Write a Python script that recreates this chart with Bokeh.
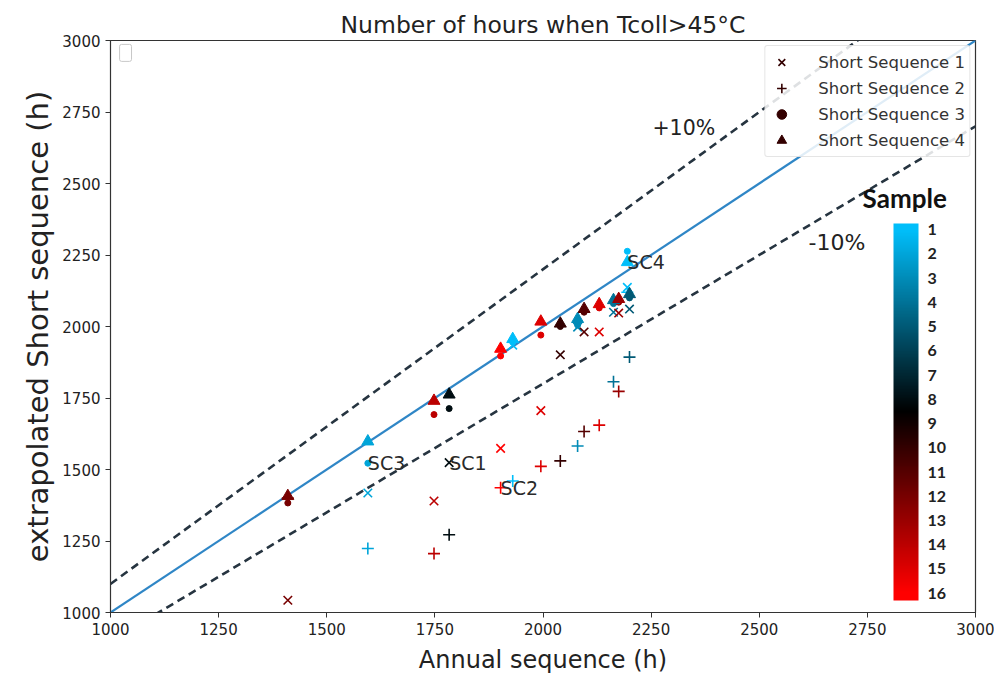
import numpy as np
from bokeh.plotting import figure
from bokeh.models import (ColumnDataSource, Legend, LegendItem, ColorBar, LinearColorMapper,
                          FixedTicker, Label, CustomJSTickFormatter, AllLabels)
from bokeh.core.properties import value
from bokeh.embed import file_html
from bokeh.resources import INLINE

# ---------------- data ----------------
annual = [1410, 1595, 1748, 1783, 1902, 1930, 1995, 2040, 2080, 2095, 2130, 2163, 2175, 2200, 2195]
sample = [12, 2, 14, 8, 16, 1, 15, 10, 3, 11, 15, 4, 13, 5, 1]
seq1 = [1043, 1418, 1390, 1524, 1574, 1935, 1706, 1901, 1998, 1981, 1981, 2050, 2047, 2061, 2137]
seq2 = [1400, 1224, 1206, 1272, 1436, 1460, 1511, 1530, 1582, 1633, 1655, 1807, 1773, 1893, 2120]
seq3 = [1383, 1522, 1692, 1713, 1897, 1945, 1970, 2000, 2005, 2050, 2065, 2080, 2085, 2100, 2263]
seq4 = [1407, 1598, 1740, 1762, 1922, 1956, 2017, 2010, 2026, 2061, 2078, 2092, 2096, 2113, 2225]
series_names = ["Short Sequence 1", "Short Sequence 2", "Short Sequence 3", "Short Sequence 4"]
x_ticks = [1000, 1250, 1500, 1750, 2000, 2250, 2500, 2750, 3000]
y_ticks = [1000, 1250, 1500, 1750, 2000, 2250, 2500, 2750, 3000]
ref_x = [1000, 3000]
band_factors = [1.1, 1.0, 0.9]
sc_labels = ["SC1", "SC2", "SC3", "SC4"]
cbar_ticks = list(range(1, 17))


def sample_color(s):
    t = min(1.0, max(0.0, (s - 1) / 15.0))
    if t <= 0.5:
        f = 1 - 2 * t
        r, g, b = 0, 190 * f, 250 * f
    else:
        f = 2 * t - 1
        r, g, b = 255 * f, 0, 0
    return "#%02x%02x%02x" % (int(round(r)), int(round(g)), int(round(b)))


src = ColumnDataSource(dict(annual=annual, seq1=seq1, seq2=seq2, seq3=seq3, seq4=seq4,
                            color=[sample_color(s) for s in sample]))

FONT = "DejaVu Sans"
p = figure(width=994, height=676, x_range=(1000, 3000), y_range=(1000, 3000),
           output_backend="svg", toolbar_location=None,
           min_border_left=110, min_border_right=19, min_border_top=40, min_border_bottom=61)
p.xgrid.visible = False
p.ygrid.visible = False
p.outline_line_color = "#333333"
p.outline_line_width = 1.2
p.background_fill_color = "white"

p.title.text = "Number of hours when Tcoll>45°C"
p.title.align = "center"
p.title.text_font = FONT
p.title.text_font_size = "23.5px"
p.title.text_font_style = "normal"
p.title.text_color = "#222222"
p.title.standoff = 4

for ax, ticks in ((p.xaxis, x_ticks), (p.yaxis, y_ticks)):
    ax.ticker = FixedTicker(ticks=ticks)
    ax.major_label_text_font = FONT
    ax.major_label_text_font_size = "15px"
    ax.major_label_text_color = "#222222"
    ax.minor_tick_line_color = None
    ax.major_tick_in = 0
    ax.major_tick_out = 5
    ax.axis_line_color = "#333333"
    ax.major_tick_line_color = "#333333"
    ax.axis_label_text_font = FONT
    ax.axis_label_text_font_style = "normal"
    ax.axis_label_text_color = "#222222"
p.xaxis.axis_label = "Annual sequence (h)"
p.xaxis.axis_label_text_font_size = "24px"
p.xaxis.axis_label_standoff = 8
p.yaxis.axis_label = "extrapolated Short sequence (h)"
p.yaxis.axis_label_text_font_size = "29px"
p.yaxis.axis_label_standoff = 4

# reference lines
for fct in band_factors:
    ys = [fct * v for v in ref_x]
    if fct == 1.0:
        p.line(ref_x, ys, line_color="#2f86c6", line_width=2.2)
    else:
        p.line(ref_x, ys, line_color="#263440", line_width=2.6, line_dash="8 5")

r1 = p.scatter("annual", "seq1", source=src, marker="x", size=12, line_color="color", line_width=1.6)
r2 = p.scatter("annual", "seq2", source=src, marker="cross", size=12, line_color="color", line_width=1.6)
r3 = p.scatter("annual", "seq3", source=src, marker="circle", size=6, fill_color="color", line_color="color")
r4 = p.scatter("annual", "seq4", source=src, marker="triangle", size=12, fill_color="color", line_color="color")

legend = Legend(items=[LegendItem(label=n, renderers=[r], index=7)
                       for n, r in zip(series_names, [r1, r2, r3, r4])],
                location="top_right", margin=5, padding=4, spacing=2,
                label_text_font=FONT, label_text_font_size="16.5px", label_text_color="#333333",
                glyph_width=24, glyph_height=24, label_height=20, label_standoff=25,
                border_line_color="#cccccc", border_line_width=1, border_radius=3,
                background_fill_alpha=0.85)
p.add_layout(legend)

# SC annotations
sc_x = [annual[3], annual[4], annual[1], annual[14]]
sc_y = [seq1[3], seq2[4], seq3[1], seq4[14]]
p.text(x=sc_x, y=sc_y, text=sc_labels, text_font=value(FONT), text_font_size="19px",
       text_color="#2a2a2a", text_align="left", text_baseline="alphabetic")

p.add_layout(Label(x=2253, y=2694, text="+10%", text_font=FONT, text_font_size="20.5px",
                   text_color="#222222", text_baseline="middle"))
p.add_layout(Label(x=2614, y=2294, text="-10%", text_font=FONT, text_font_size="22px",
                   text_color="#222222", text_baseline="middle"))

# empty legend box (top-left)
p.add_layout(Label(x=1021, y=2927, text=" ", text_font_size="7px", padding=5,
                   border_line_color="#c8c8c8", border_line_width=1, border_radius=2,
                   background_fill_color="white"))

# colour bar
pal = []
lo, hi = -16.3, -0.75
for i in range(256):
    v = lo + (hi - lo) * i / 255.0
    pal.append(sample_color(-v))
mapper = LinearColorMapper(palette=pal, low=lo, high=hi)
cb = ColorBar(color_mapper=mapper, location=(783, 12), orientation="vertical",
              width=25, height=377, padding=0,
              ticker=FixedTicker(ticks=[-s for s in cbar_ticks]),
              formatter=CustomJSTickFormatter(code="return String(Math.round(-tick));"),
              major_label_policy=AllLabels(),
              major_tick_line_color=None, minor_tick_line_color=None, label_standoff=9,
              major_label_text_font="Lato", major_label_text_font_style="bold",
              major_label_text_font_size="16px", major_label_text_color="#222222",
              background_fill_alpha=0, border_line_color=None, bar_line_color=None)
p.add_layout(cb)
p.add_layout(Label(x=2739, y=2395, text="Sample", text_font="Lato", text_font_style="bold",
                   text_font_size="26px", text_color="#111111"))

open("out.html", "w").write(file_html(p, INLINE))
